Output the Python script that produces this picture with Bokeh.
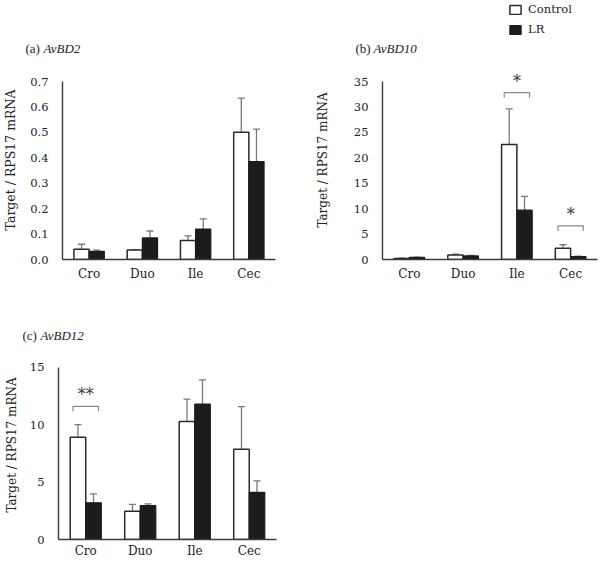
from bokeh.plotting import figure
from bokeh.models import (ColumnDataSource, Whisker, TeeHead, FixedTicker,
                          Legend, LegendItem, Range1d)
from bokeh.layouts import row, column
from bokeh.embed import file_html
from bokeh.resources import INLINE
from bokeh.core.properties import value

categories = ["Cro", "Duo", "Ile", "Cec"]
series_names = ["Control", "LR"]

a_control = [0.040, 0.037, 0.075, 0.500]
a_control_err = [0.020, 0.002, 0.018, 0.135]
a_lr = [0.032, 0.085, 0.120, 0.385]
a_lr_err = [0.005, 0.027, 0.040, 0.128]
a_ticks = [0.0, 0.1, 0.2, 0.3, 0.4, 0.5, 0.6, 0.7]

b_control = [0.2, 0.9, 22.6, 2.2]
b_control_err = [0.05, 0.15, 7.0, 0.7]
b_lr = [0.4, 0.7, 9.7, 0.55]
b_lr_err = [0.05, 0.1, 2.7, 0.1]
b_ticks = [0, 5, 10, 15, 20, 25, 30, 35]
b_sig_cat = ["Ile", "Cec"]
b_sig_top = [32.8, 6.6]
b_sig_text = ["*", "*"]

c_control = [8.9, 2.46, 10.28, 7.87]
c_control_err = [1.1, 0.6, 1.95, 3.7]
c_lr = [3.2, 2.95, 11.8, 4.1]
c_lr_err = [0.77, 0.15, 2.1, 1.0]
c_ticks = [0, 5, 10, 15]
c_sig_cat = ["Cro"]
c_sig_top = [11.6]
c_sig_text = ["**"]

SERIF = "DejaVu Serif"
TITLE_FONT = "Liberation Serif"
TXT = "#222222"
CTRL_FILL, CTRL_LINE = "white", "#2a2a2a"
LR_FILL, LR_LINE = "#1c1c1c", "#1c1c1c"
BAR_W = 0.285
OFF = 0.1425
W_LEFT = 300
W_RIGHT = 298


def title_fig(width, tag, gene, tag_x, gene_x, y, height):
    f = figure(width=width, height=height, output_backend="svg", toolbar_location=None,
               x_range=Range1d(0, width), y_range=Range1d(height, 0),
               x_axis_location=None, y_axis_location=None,
               min_border=0, min_border_left=0, min_border_right=0,
               min_border_top=0, min_border_bottom=0, frame_align=False,
               background_fill_color="white", border_fill_color="white",
               outline_line_color=None)
    f.grid.visible = False
    f.text(x=[tag_x], y=[y], text=[tag], text_baseline="middle", text_align="left",
           text_font=value(TITLE_FONT), text_font_size="13px", text_color=TXT)
    f.text(x=[gene_x], y=[y], text=[gene], text_baseline="middle", text_align="left",
           text_font=value(TITLE_FONT), text_font_size="13px", text_color=TXT,
           text_font_style="italic")
    return f


def make_panel(width, ctrl, ctrl_err, lr, lr_err, ticks, fmt, height, borders, axis_px,
               ylab_standoff, ylab_size, sig=None, leg_drop_px=5, xlab_standoff=7,
               star_offset=-11):
    left, right, bottom = borders
    frame_h = height - bottom
    ymax = ticks[-1]
    px_per_unit = axis_px / ymax
    y_end = frame_h / px_per_unit
    ncat = len(categories)
    p = figure(width=width, height=height, output_backend="svg", toolbar_location=None,
               x_range=Range1d(0, ncat), y_range=Range1d(0, y_end),
               min_border_left=left, min_border_right=right, min_border_top=0,
               min_border_bottom=bottom, frame_align=False,
               background_fill_color="white",
               border_fill_color="white", outline_line_color=None)
    p.grid.visible = False
    centers = [i + 0.5 for i in range(ncat)]
    src = ColumnDataSource(dict(
        xc=[c - OFF for c in centers], xl=[c + OFF for c in centers],
        ctrl=ctrl, lr=lr,
        cu=[v + e for v, e in zip(ctrl, ctrl_err)], cl=[v - e for v, e in zip(ctrl, ctrl_err)],
        lu=[v + e for v, e in zip(lr, lr_err)], ll=[v - e for v, e in zip(lr, lr_err)]))
    p.vbar(x="xc", top="ctrl", bottom=0, width=BAR_W, source=src,
           fill_color=CTRL_FILL, line_color=CTRL_LINE, line_width=1.5)
    p.vbar(x="xl", top="lr", bottom=0, width=BAR_W, source=src,
           fill_color=LR_FILL, line_color=LR_LINE, line_width=1.2)
    for base, up, lo in (("xc", "cu", "cl"), ("xl", "lu", "ll")):
        w = Whisker(source=src, base=base, upper=up, lower=lo,
                    line_color="#7a7a7a", line_width=1.3,
                    upper_head=TeeHead(size=7, line_color="#7a7a7a", line_width=1.3),
                    lower_head=TeeHead(size=7, line_color="#7a7a7a", line_width=1.3))
        p.add_layout(w)

    if sig is not None:
        cats, tops, texts = sig
        drop = leg_drop_px / px_per_unit
        xs, ys, sx, sy = [], [], [], []
        for c, t in zip(cats, tops):
            m = categories.index(c) + 0.5
            xs.append([m - 0.235, m - 0.235, m + 0.235, m + 0.235])
            ys.append([t - drop, t, t, t - drop])
            sx.append(m)
            sy.append(t)
        p.multi_line(xs=xs, ys=ys, line_color="#8a8a8a", line_width=1.2)
        p.text(x=sx, y=sy, text=texts, text_align="center", text_baseline="alphabetic",
               y_offset=star_offset, text_font=value(SERIF), text_font_size="16px",
               text_color="#333333")

    p.xaxis.ticker = FixedTicker(ticks=centers)
    p.xaxis.major_label_overrides = {c: n for c, n in zip(centers, categories)}
    p.yaxis.ticker = FixedTicker(ticks=ticks)
    p.yaxis.major_label_overrides = {t: fmt.format(t) for t in ticks}
    p.yaxis.bounds = (0, ymax)
    for ax in (p.xaxis[0], p.yaxis[0]):
        ax.major_tick_line_color = None
        ax.minor_tick_line_color = None
        ax.major_tick_out = 0
        ax.major_tick_in = 0
        ax.axis_line_color = "#3a3a3a"
        ax.axis_line_width = 1.4
        ax.major_label_text_font = SERIF
        ax.major_label_text_color = TXT
    p.xaxis.major_label_text_font_size = "12px"
    p.xaxis.major_label_standoff = xlab_standoff
    p.yaxis.major_label_text_font_size = "11.5px"
    p.yaxis.major_label_standoff = 14
    p.yaxis.axis_label = "Target / RPS17 mRNA"
    p.yaxis.axis_label_text_font = SERIF
    p.yaxis.axis_label_text_font_style = "normal"
    p.yaxis.axis_label_text_font_size = ylab_size
    p.yaxis.axis_label_text_color = TXT
    p.yaxis.axis_label_standoff = ylab_standoff
    return p, src


ta = title_fig(W_LEFT, "(a)", "AvBD2", 25, 43, 48, 60)
pa, _ = make_panel(W_LEFT, a_control, a_control_err, a_lr, a_lr_err, a_ticks, "{:.1f}",
                   230, (62, 25, 31), 178, 9, "12.5px")

tb = title_fig(W_RIGHT, "(b)", "AvBD10", 55, 73, 48, 60)
pb, src_b = make_panel(W_RIGHT, b_control, b_control_err, b_lr, b_lr_err, b_ticks, "{:d}",
                       230, (82, 1, 31), 178, 21, "12px",
                       sig=(b_sig_cat, b_sig_top, b_sig_text))

# legend lives in the (b) header area; its swatches come from hidden copies of the series
r_ctrl = tb.vbar(x="xc", top="ctrl", width=BAR_W, source=src_b, visible=False,
                 fill_color=CTRL_FILL, line_color=CTRL_LINE, line_width=1.5)
r_lr = tb.vbar(x="xl", top="lr", width=BAR_W, source=src_b, visible=False,
               fill_color=LR_FILL, line_color=LR_LINE, line_width=1.2)
legend = Legend(items=[LegendItem(label=series_names[0], renderers=[r_ctrl]),
                       LegendItem(label=series_names[1], renderers=[r_lr])],
                location="top_right", orientation="vertical",
                glyph_width=14, glyph_height=11, label_height=11, label_width=68,
                spacing=6, padding=0, margin=2, label_standoff=6,
                inactive_fill_alpha=0,
                label_text_font=SERIF, label_text_font_size="11.5px",
                label_text_color=TXT, border_line_alpha=0, background_fill_alpha=0)
tb.add_layout(legend)

tc = title_fig(W_LEFT, "(c)", "AvBD12", 22, 40, 45, 60)
pc, _ = make_panel(W_LEFT, c_control, c_control_err, c_lr, c_lr_err, c_ticks, "{:d}",
                   210, (58, 24, 19), 174, 8, "12px",
                   sig=(c_sig_cat, c_sig_top, c_sig_text), xlab_standoff=4,
                   star_offset=-12)

layout = column(row(column(ta, pa), column(tb, pb)), column(tc, pc))

open("out.html", "w").write(file_html(layout, INLINE))
